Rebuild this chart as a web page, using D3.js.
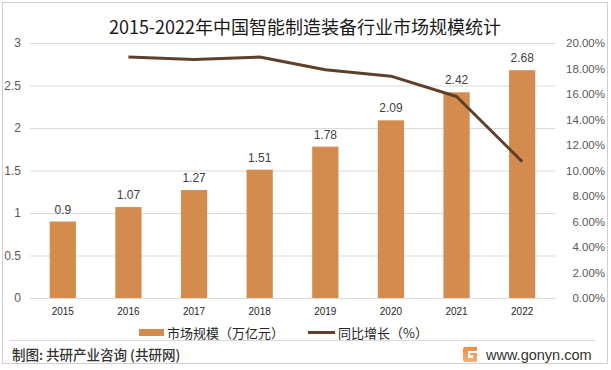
<!DOCTYPE html>
<html><head><meta charset="utf-8">
<script src="https://cdn.jsdelivr.net/npm/d3@7"></script>
<style>body{margin:0;background:#fff;}svg{display:block;font-family:"Microsoft YaHei","Noto Sans CJK SC","Liberation Sans",sans-serif;}</style>
</head><body><svg id="c" width="611" height="370"></svg>
<script>
const years = ["2015","2016","2017","2018","2019","2020","2021","2022"];
const marketSize = [0.9,1.07,1.27,1.51,1.78,2.09,2.42,2.68];
const growth = [null,18.9,18.7,18.9,17.9,17.4,15.8,10.7];
const leftTicks = [0,0.5,1,1.5,2,2.5,3];
const rightTicks = [0,2,4,6,8,10,12,14,16,18,20];

const svg = d3.select("#c");
const L=30,R=555,T=43,B=298;
svg.append("rect").attr("x",2.5).attr("y",2.5).attr("width",605).attr("height",361).attr("fill","#fff").attr("stroke","#d0d0d0");

const x = d3.scaleBand().domain(years).range([L,R]).paddingInner(0.6).paddingOuter(0.3);
const y = d3.scaleLinear().domain([0,3]).range([B,T]);
const y2 = d3.scaleLinear().domain([0,20]).range([B,T]);

svg.append("text").attr("x",305).attr("y",34).attr("text-anchor","middle").attr("font-size",18).attr("fill","#1a1a1a").text("2015-2022年中国智能制造装备行业市场规模统计");

const gl = svg.append("g").attr("transform",`translate(${L},0)`)
  .call(d3.axisLeft(y).tickValues(leftTicks).tickSize(-(R-L)).tickFormat(d3.format("")));
gl.select(".domain").remove();
gl.selectAll(".tick line").attr("stroke","#d9d9d9");
gl.selectAll(".tick text").attr("x",-9).attr("font-size",12).attr("fill","#595959").attr("font-family","Liberation Sans, sans-serif");

const gr = svg.append("g").attr("transform",`translate(${R},0)`)
  .call(d3.axisRight(y2).tickValues(rightTicks).tickSize(0).tickFormat(d=>d.toFixed(2)+"%"));
gr.select(".domain").remove();
gr.selectAll(".tick text").attr("x",50).attr("text-anchor","end").attr("font-size",11.5).attr("fill","#595959").attr("font-family","Liberation Sans, sans-serif");

const gx = svg.append("g").attr("transform",`translate(0,${B})`).call(d3.axisBottom(x).tickSize(0));
gx.select(".domain").attr("stroke","#d9d9d9");
gx.selectAll(".tick text").attr("dy","1.4em").attr("font-size",10).attr("fill","#262626").attr("font-family","Liberation Sans, sans-serif");

svg.selectAll(".bar").data(marketSize).enter().append("rect")
  .attr("x",(d,i)=>x(years[i])).attr("width",x.bandwidth())
  .attr("y",d=>y(d)).attr("height",d=>B-y(d)).attr("fill","#d48c4e");

svg.selectAll(".vl").data(marketSize).enter().append("text")
  .attr("x",(d,i)=>x(years[i])+x.bandwidth()/2).attr("y",d=>y(d)-8)
  .attr("text-anchor","middle").attr("font-size",12).attr("fill","#404040")
  .attr("font-family","Liberation Sans, sans-serif").text(d=>d);

const line = d3.line().defined(d=>d!=null).x((d,i)=>x(years[i])+x.bandwidth()/2).y(d=>y2(d));
svg.append("path").datum(growth).attr("d",line).attr("fill","none").attr("stroke","#5e4029").attr("stroke-width",3).attr("stroke-linejoin","round");

// legend
svg.append("rect").attr("x",139).attr("y",329).attr("width",25).attr("height",7).attr("fill","#d48c4e");
svg.append("text").attr("x",167).attr("y",338).attr("font-size",13).attr("fill","#262626").text("市场规模（万亿元）");
svg.append("line").attr("x1",308).attr("x2",335).attr("y1",332.5).attr("y2",332.5).attr("stroke","#5e4029").attr("stroke-width",3);
svg.append("text").attr("x",338).attr("y",338).attr("font-size",13).attr("fill","#262626").text("同比增长（%）");

svg.append("line").attr("x1",10).attr("x2",595).attr("y1",340.5).attr("y2",340.5).attr("stroke","#d9d9d9");
svg.append("text").attr("x",12).attr("y",360).attr("font-size",13.5).attr("font-weight",500).attr("fill","#333").text("制图: 共研产业咨询 (共研网)");
const lg = svg.append("g").attr("transform","translate(463,347)");
const grad = svg.append("defs").append("linearGradient").attr("id","lgG").attr("x1",0).attr("y1",0).attr("x2",0).attr("y2",1);
grad.append("stop").attr("offset",0).attr("stop-color","#f08a3c");
grad.append("stop").attr("offset",1).attr("stop-color","#f6b07a");
lg.append("path").attr("d","M0,2 Q0,0 2,0 L14,0 L14,4 L5,4 L5,11 L10,11 L10,8 L7,8 L7,6 L14,6 L14,15 L2,15 Q0,15 0,13 Z").attr("fill","url(#lgG)");
svg.append("text").attr("x",486).attr("y",360).attr("font-size",14.5).attr("fill","#333").attr("font-family","Liberation Sans, sans-serif").text("www.gonyn.com");
</script></body></html>
